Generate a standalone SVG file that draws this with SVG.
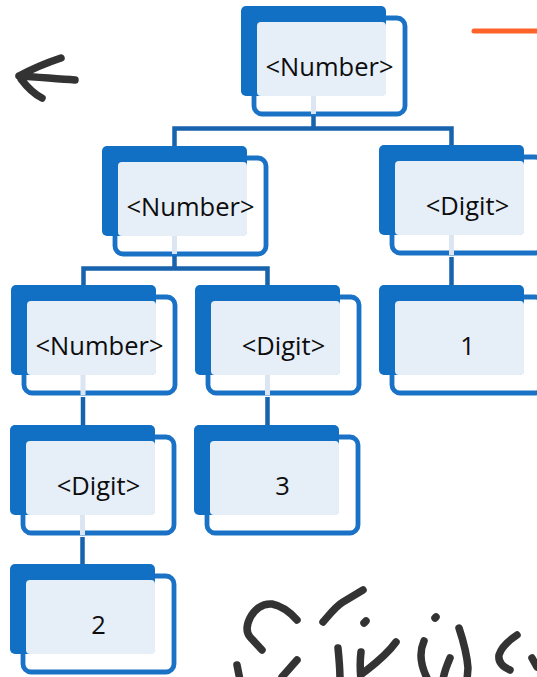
<svg xmlns="http://www.w3.org/2000/svg" width="537" height="677" viewBox="0 0 537 677">
  <style>
    .frame { fill: #ffffff; stroke: #1A72C6; stroke-width: 4.8; }
    .back { fill: #116FC4; }
    .panel { fill: #E6EEF8; }
    .label { font-family: "Open Sans", "Liberation Sans", sans-serif; font-size: 25.5px; fill: #0d0d0d; text-anchor: middle; }
    .link { fill: none; stroke: #1763AE; stroke-width: 4.5; }
    .stub { fill: none; stroke: #DCE6F3; stroke-width: 5; }
    .ink { fill: none; stroke: #333333; stroke-width: 7.5; stroke-linecap: round; stroke-linejoin: round; }
  </style>
  <defs>
    <!-- one tree node: outlined card, solid blue tab behind a light panel -->
    <g id="card">
      <rect class="frame" x="13" y="12" width="151" height="96" rx="8"/>
      <rect class="back" x="0" y="0" width="145" height="90" rx="5"/>
      <rect class="panel" x="16" y="16" width="129" height="74" rx="4"/>
    </g>
  </defs>

  <g id="node-number-root" transform="translate(241,6)">
    <use href="#card"/>
    <text class="label" x="88.5" y="70">&lt;Number&gt;</text>
  </g>
  <g id="node-number-left" transform="translate(102,146)">
    <use href="#card"/>
    <text class="label" x="88.5" y="70">&lt;Number&gt;</text>
  </g>
  <g id="node-digit-right" transform="translate(379,145)">
    <use href="#card"/>
    <text class="label" x="88.5" y="70">&lt;Digit&gt;</text>
  </g>
  <g id="node-number-inner" transform="translate(11,285)">
    <use href="#card"/>
    <text class="label" x="88.5" y="70">&lt;Number&gt;</text>
  </g>
  <g id="node-digit-mid" transform="translate(195,285)">
    <use href="#card"/>
    <text class="label" x="88.5" y="70">&lt;Digit&gt;</text>
  </g>
  <g id="node-one" transform="translate(379,285)">
    <use href="#card"/>
    <text class="label" x="88.5" y="70">1</text>
  </g>
  <g id="node-digit-low" transform="translate(10,425)">
    <use href="#card"/>
    <text class="label" x="88.5" y="70">&lt;Digit&gt;</text>
  </g>
  <g id="node-three" transform="translate(194,425)">
    <use href="#card"/>
    <text class="label" x="88.5" y="70">3</text>
  </g>
  <g id="node-two" transform="translate(10,564)">
    <use href="#card"/>
    <text class="label" x="88.5" y="70">2</text>
  </g>

  <g id="connectors">
    <!-- light stubs crossing the white margin inside each parent card -->
    <path class="stub" d="M313.5 96 V114 M174.5 236 V254 M451.5 235 V255 M83 375 V395 M267.5 375 V395 M82.5 515 V535"/>
    <!-- root to its two children -->
    <path class="link" d="M313.5 116 V128.5 M174.5 146 V128.5 H451.5 V145"/>
    <!-- left <Number> to its two children -->
    <path class="link" d="M174.5 256 V268.5 M83.5 285 V268.5 H267.5 V285"/>
    <!-- single-child chains -->
    <path class="link" d="M451.5 257 V285 M83 397 V425 M267.5 397 V425 M82.5 537 V564"/>
  </g>

  <!-- freehand annotations -->
  <g id="annotations">
    <path class="ink" d="M61 58 C46 63 30 70 19 76 M19 76 C38 77 57 79 75 80 M21 79 C27 87 34 94 42 98"/>
    <path d="M474 31 H537" fill="none" stroke="#FF5212" stroke-width="5" stroke-linecap="round" opacity="0.9"/>
    <path class="ink" d="M297 620 C290 612 282 606 272 604 C262 603 254 610 250 618 C246 626 246 632 250 637 L262 650"/>
    <path class="ink" d="M323 622 C330 614 336 606 343 602 L363 590"/>
    <path class="ink" d="M364 623 L366 621"/>
    <path class="ink" d="M237 665 L240 680"/>
    <path class="ink" d="M297 660 L282 677"/>
    <path class="ink" d="M338 648 C339 658 340 668 340 680"/>
    <path class="ink" d="M361 652 C360 660 360 670 361 680 M363 673 C372 666 386 656 396 642"/>
    <path class="ink" d="M435 618 L436 617"/>
    <path class="ink" d="M424 641 C420 650 419 662 427 678"/>
    <path class="ink" d="M450 658 C447 665 444 672 443 680"/>
    <path class="ink" d="M459 628 C463 640 467 655 468 668 L467 680"/>
    <path class="ink" d="M517 635 C508 641 501 648 499 655 C498 662 503 667 510 670"/>
    <path class="ink" d="M532 658 L537 667"/>
  </g>
</svg>
